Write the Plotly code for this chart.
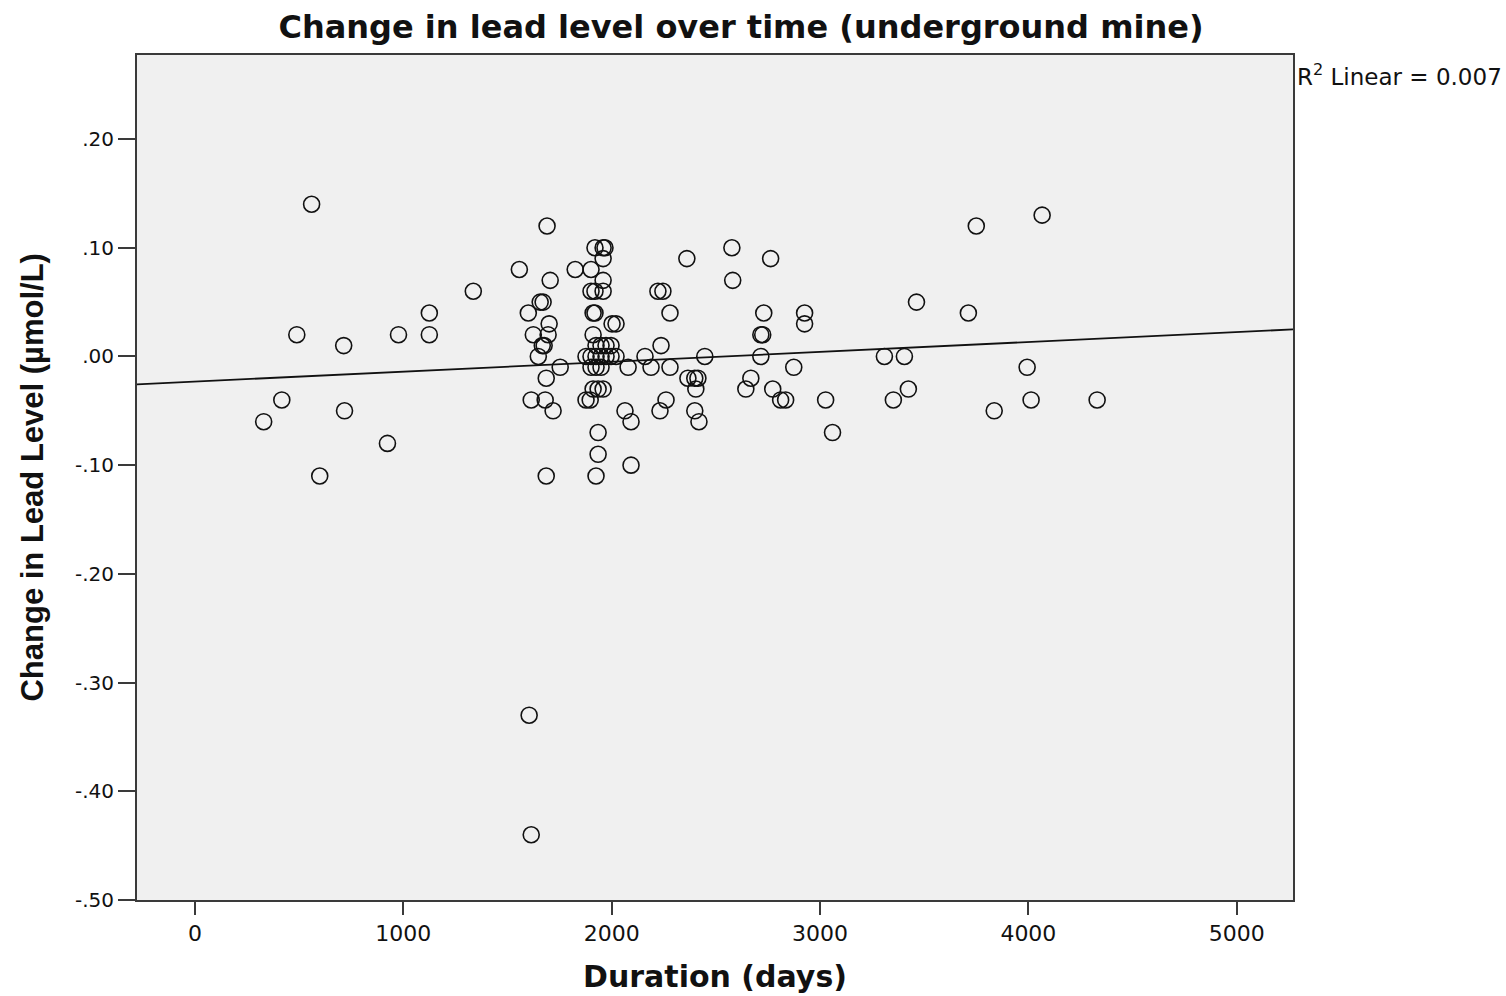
import plotly.graph_objects as go

# Duration (days) and change in lead level (µmol/L)
duration_days = [
    330, 417, 489, 560, 599, 714, 718, 924, 977, 1125, 1125, 1336,
    1557, 1600, 1614, 1604, 1614, 1624, 1648, 1657, 1671, 1667, 1676, 1681,
    1686, 1690, 1686, 1700, 1695, 1705, 1719, 1753,
    1825, 1901, 1920, 1959, 1968, 1959, 1959, 1901, 1920, 1959, 1920, 1911,
    2002, 2021, 1911, 1925, 1949, 1973, 1997,
    1877, 1901, 1925, 1949, 1973, 1997, 2021,
    1901, 1925, 1949, 2079, 1911, 1935, 1959, 1877, 1897,
    1935, 1935, 1925, 2064, 2093, 2093,
    2160, 2189, 2237, 2222, 2246, 2280, 2280, 2232, 2261,
    2361, 2366, 2399, 2414, 2404, 2399, 2419, 2447,
    2577, 2581, 2763, 2730, 2716, 2725, 2716, 2668, 2644, 2773,
    2811, 2835, 2874, 2926, 2926, 3027, 3060,
    3309, 3405, 3424, 3352, 3463, 3712, 3750, 3836, 3994, 4013, 4066, 4330,
]
lead_change = [
    -0.06, -0.04, 0.02, 0.14, -0.11, 0.01, -0.05, -0.08, 0.02, 0.04, 0.02, 0.06,
    0.08, 0.04, -0.04, -0.33, -0.44, 0.02, 0.00, 0.05, 0.05, 0.01, 0.01, -0.04,
    -0.02, 0.12, -0.11, 0.03, 0.02, 0.07, -0.05, -0.01,
    0.08, 0.08, 0.10, 0.10, 0.10, 0.09, 0.07, 0.06, 0.06, 0.06, 0.04, 0.04,
    0.03, 0.03, 0.02, 0.01, 0.01, 0.01, 0.01,
    0.00, 0.00, 0.00, 0.00, 0.00, 0.00, 0.00,
    -0.01, -0.01, -0.01, -0.01, -0.03, -0.03, -0.03, -0.04, -0.04,
    -0.07, -0.09, -0.11, -0.05, -0.06, -0.10,
    0.00, -0.01, 0.01, 0.06, 0.06, 0.04, -0.01, -0.05, -0.04,
    0.09, -0.02, -0.02, -0.02, -0.03, -0.05, -0.06, 0.00,
    0.10, 0.07, 0.09, 0.04, 0.02, 0.02, 0.00, -0.02, -0.03, -0.03,
    -0.04, -0.04, -0.01, 0.04, 0.03, -0.04, -0.07,
    0.00, 0.00, -0.03, -0.04, 0.05, 0.04, 0.12, -0.05, -0.01, -0.04, 0.13, -0.04,
]

# Linear fit line
fit_intercept = -0.0231
fit_slope = 9.1e-6
r2_label = "R<sup>2</sup> Linear = 0.007"

x_title = "<b>Duration (days)</b>"
y_title = "<b>Change in Lead Level (µmol/L)</b>"
chart_title = "<b>Change in lead level over time (underground mine)</b>"

x_range = [-278, 5270]
y_range = [-0.5, 0.2773]
x_ticks = [0, 1000, 2000, 3000, 4000, 5000]
y_ticks = [-0.5, -0.4, -0.3, -0.2, -0.1, 0.0, 0.1, 0.2]
y_ticktext = ["-.50", "-.40", "-.30", "-.20", "-.10", ".00", ".10", ".20"]

FONT = "DejaVu Sans"
AXIS_COL = "#3a3a3a"
TXT = "#111111"

fig = go.Figure()
fig.add_trace(go.Scatter(
    x=duration_days, y=lead_change, mode="markers",
    marker=dict(symbol="circle-open", size=16, color=TXT,
                line=dict(width=1.6, color=TXT)),
    showlegend=False, hoverinfo="x+y",
))
fit_x = [x_range[0], x_range[1]]
fit_y = [fit_intercept + fit_slope * v for v in fit_x]
fig.add_trace(go.Scatter(
    x=fit_x, y=fit_y, mode="lines",
    line=dict(color=TXT, width=1.8),
    showlegend=False, hoverinfo="skip",
))

fig.update_layout(
    width=1506, height=996, autosize=False,
    margin=dict(l=137, r=213, t=55, b=96, autoexpand=False),
    paper_bgcolor="white", plot_bgcolor="#f0f0f0",
    font=dict(family=FONT, color=TXT),
    title=dict(text=chart_title,
               x=0.5225, xanchor="center", xref="paper",
               y=0.973, yanchor="middle",
               font=dict(family=FONT, size=32, color=TXT)),
    xaxis=dict(range=x_range, tickvals=x_ticks, showgrid=False, zeroline=False,
               automargin=False,
               showline=True, mirror=True, linecolor=AXIS_COL, linewidth=2,
               ticks="outside", ticklen=13, tickwidth=2, tickcolor=AXIS_COL,
               tickfont=dict(family=FONT, size=22, color=TXT)),
    yaxis=dict(range=y_range, tickvals=y_ticks, ticktext=y_ticktext,
               showgrid=False, zeroline=False, automargin=False,
               showline=True, mirror=True, linecolor=AXIS_COL, linewidth=2,
               ticks="outside", ticklen=17, tickwidth=2, tickcolor=AXIS_COL,
               tickfont=dict(family=FONT, size=20, color=TXT)),
    annotations=[
        dict(text=r2_label, xref="paper", yref="paper",
             x=1.0, y=0.976, xanchor="left", yanchor="middle",
             xshift=2, showarrow=False,
             font=dict(family=FONT, size=23, color=TXT)),
        dict(text=x_title, xref="paper", yref="paper",
             x=0.5, y=-0.0911, xanchor="center", yanchor="middle",
             showarrow=False, font=dict(family=FONT, size=30, color=TXT)),
        dict(text=y_title, xref="paper", yref="paper", textangle=-90,
             x=-0.0908, y=0.5, xanchor="center", yanchor="middle",
             showarrow=False,
             font=dict(family="Liberation Sans", size=31, color=TXT)),
    ],
)

fig.write_html("out.html", config={"displayModeBar": False},
               post_script="document.body.style.margin='0';")
